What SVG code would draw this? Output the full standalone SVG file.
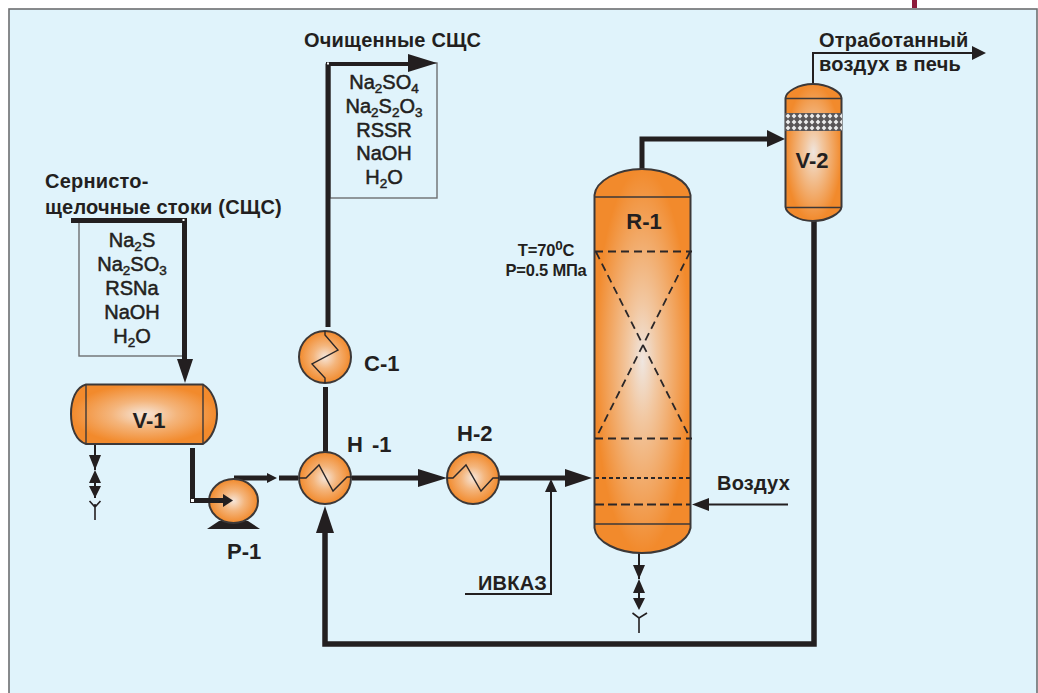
<svg xmlns="http://www.w3.org/2000/svg" width="1038" height="693" viewBox="0 0 1038 693">
<style>
text{font-family:"Liberation Sans",Arial,sans-serif;fill:#231f20}
.b{font-weight:700;font-size:20px;letter-spacing:.2px}
.n{font-weight:700;font-size:22px}
.m{text-anchor:middle}
.f{font-size:20px;text-anchor:middle;stroke:#231f20;stroke-width:.5px}
.t{font-weight:700;font-size:16.500px;text-anchor:middle;letter-spacing:-.2px}
.s{font-size:13.500px}
.v{stroke:#3c3838;stroke-width:2}
.i{fill:none;stroke:#3c3838;stroke-width:1.4}
.z{fill:none;stroke:#2b2728;stroke-width:1.4}
.p{fill:none;stroke:#231f20;stroke-linejoin:miter}
.d{fill:none;stroke:#2b2728;stroke-width:1.8}
.h{fill:#231f20}
.box{fill:none;stroke:#6d6e71;stroke-width:1.4}
</style>
<defs>
<radialGradient id="g"><stop offset="0" stop-color="#f6e6da"/><stop offset=".45" stop-color="#f4b57c"/><stop offset="1" stop-color="#f28a2c"/></radialGradient>
<radialGradient id="gr" cx=".5" cy=".5" r=".5"><stop offset="0" stop-color="#efe6e0"/><stop offset=".3" stop-color="#f2c8a2"/><stop offset="1" stop-color="#f28a2c"/></radialGradient>
<pattern id="mesh" x="785" y="113" width="6" height="6" patternUnits="userSpaceOnUse"><rect width="6" height="6" fill="#5a5657"/><path d="M3 .6 5.400 3 3 5.400 .6 3Z" fill="#ececec"/></pattern>
</defs>
<rect width="1038" height="693" fill="#fff"/>
<rect x="912" y="0" width="5" height="8" fill="#8e1b3a"/>
<rect x="9" y="9" width="1028" height="690" fill="#e0f3fb" stroke="#6d6e71" stroke-width="1.6"/>

<g id="connectors">
<rect class="box" x="79" y="220" width="105" height="136"/>
<rect class="box" x="330" y="63" width="107" height="135"/>
<path class="p" stroke-width="5" d="M71 220.500H184.500V362"/>
<path class="h" d="M177 359H193L185 383Z"/>
<rect x="182.500" y="219" width="2" height="2" fill="#fff"/>
<path class="p" stroke-width="2" d="M95 444V470M95 483V498"/>
<path class="h" d="M89 455H101L95 470ZM95 470 101 483H89ZM89 486H101L95 498Z"/>
<path class="p" stroke-width="1.600" d="M95 504V520M89.500 501 95 507 100.500 501"/>
<path class="p" stroke-width="5" d="M234 478H268M279 478H298"/>
<path class="h" d="M267 473 277 478 267 483Z"/>
<path class="p" stroke-width="5" d="M325.500 387V452M352 478H420M499 478H566"/>
<path class="p" stroke-width="5" d="M328 327V63.500"/>
<path class="p" stroke-width="4" d="M326 64H410"/>
<path class="h" d="M408 54 437 63 408 72Z"/>
<rect x="327" y="62.500" width="2" height="2" fill="#fff"/>
<path class="h" d="M418 469 447 478 418 487Z"/>
<path class="h" d="M565 469 592 478 565 487Z"/>
<path class="p" stroke-width="2" d="M465 594H551V490"/>
<path class="h" d="M545 492 551 479 557 492Z"/>
<path class="p" stroke-width="5.500" d="M814 220V644H325V532"/>
<path class="h" d="M316 533 325 506 334 533Z"/>
<path class="p" stroke-width="5" d="M642 170V139H770"/>
<path class="h" d="M767 130 785 139 767 147Z"/>
<path class="p" stroke-width="2" d="M813 84V53H975"/>
<path class="h" d="M972 46 986 53 972 60Z"/>
<path class="p" stroke-width="2" d="M788 504.500H706"/>
<path class="h" d="M709 498V511L692 504.500Z"/>
<path class="p" stroke-width="2" d="M639 553V579M639 593V608"/>
<path class="h" d="M633 565H645L639 579ZM639 579 645 593H633ZM633 598H645L639 610Z"/>
<path class="p" stroke-width="1.600" d="M639 618V633M632.500 613 639 618 647 613"/>
</g>

<g id="V-1">
<path class="v" fill="url(#g)" d="M86 384.500H203C212 390 217 402 217 414S212 438 203 444H86C76 441 71 428 71 414S76 387 86 384.500Z"/>
<path class="i" d="M86 385V444M203 385V444"/>
<text class="n m" x="149" y="428">V-1</text>
</g>
<g id="P-1">
<path class="h" d="M219 521H248L260 529H207Z"/>
<ellipse class="v" cx="233.500" cy="501" rx="24.500" ry="22" fill="url(#g)"/>
<text class="n" x="227" y="559">P-1</text>
</g>
<g id="pump-inlet">
<path class="p" stroke-width="5" d="M192.500 448V500.500H224"/>
<rect x="191" y="499" width="3" height="3" fill="#fff"/>
<path class="h" d="M223 494 233 500.500 223 507Z"/>
</g>
<g id="H-1">
<circle class="v" cx="325" cy="478" r="26" fill="url(#g)"/>
<path class="z" d="M299 478H306L319 465 333 491 347 477H352"/>
<text class="n" x="347" y="452">H<tspan dx="3"> -1</tspan></text>
</g>
<g id="C-1">
<circle class="v" cx="325" cy="357" r="26" fill="url(#g)"/>
<path class="z" d="M325 331V335L338 350 312 364 325 378V383"/>
<text class="n" x="364" y="371">C-1</text>
</g>
<g id="H-2">
<circle class="v" cx="473" cy="478" r="26" fill="url(#g)"/>
<path class="z" d="M447 478H453L466 465 481 491 493 478H499"/>
<text class="n" x="457" y="441">H-2</text>
</g>
<g id="R-1">
<path class="v" fill="url(#gr)" d="M594.500 195C596 181 617 169 642 169S689 181 690.500 195V528C688 542 666 553 642 553S596 542 594.500 528Z"/>
<path class="i" d="M595 197H690M595 524H690" stroke-width="1.600"/>
<path class="d" stroke-dasharray="8 5" d="M595 251.500H692M595 438.500H692M596 252 690 438M690 252 596 438"/>
<path class="d" stroke-dasharray="4 3" d="M595 478H690"/>
<path class="d" stroke-dasharray="9 4" d="M595 504.500H690" stroke-width="2"/>
<text class="n m" x="644" y="229">R-1</text>
</g>
<g id="V-2">
<path class="v" fill="url(#gr)" d="M785.500 98C786 92 798 84 813 84S841 92 841.500 98V207C841 213 828 221 813 221S786 213 785.500 207Z" stroke-width="2.400"/>
<path class="i" d="M786 98.500H841M786 207.500H841"/>
<rect x="785" y="113" width="57" height="18" fill="url(#mesh)"/>
<text class="n m" x="812" y="168">V-2</text>
</g>

<g id="labels">
<text class="b" x="45" y="188">Сернисто-</text>
<text class="b" x="45" y="214">щелочные стоки (СЩС)</text>
<text class="b" x="304" y="47">Очищенные СЩС</text>
<text class="b" x="819" y="47">Отработанный</text>
<text class="b" x="819" y="71">воздух в печь</text>
<text class="b" x="717" y="490">Воздух</text>
<text class="b" x="478" y="590">ИВКАЗ</text>
<text class="t" x="546" y="256">T=70<tspan class="s" dy="-6" font-size="11">0</tspan><tspan dy="6">C</tspan></text>
<text class="t" x="546" y="276">P=0.5 МПа</text>
<text class="f" x="384" y="89">Na<tspan class="s" dy="4">2</tspan><tspan dy="-4">SO</tspan><tspan class="s" dy="4">4</tspan></text>
<text class="f" x="384" y="113">Na<tspan class="s" dy="4">2</tspan><tspan dy="-4">S</tspan><tspan class="s" dy="4">2</tspan><tspan dy="-4">O</tspan><tspan class="s" dy="4">3</tspan></text>
<text class="f" x="384" y="137">RSSR</text>
<text class="f" x="384" y="160">NaOH</text>
<text class="f" x="384" y="184">H<tspan class="s" dy="4">2</tspan><tspan dy="-4">O</tspan></text>
<text class="f" x="132" y="247">Na<tspan class="s" dy="4">2</tspan><tspan dy="-4">S</tspan></text>
<text class="f" x="132" y="271">Na<tspan class="s" dy="4">2</tspan><tspan dy="-4">SO</tspan><tspan class="s" dy="4">3</tspan></text>
<text class="f" x="132" y="295">RSNa</text>
<text class="f" x="132" y="319">NaOH</text>
<text class="f" x="132" y="343">H<tspan class="s" dy="4">2</tspan><tspan dy="-4">O</tspan></text>
</g>
</svg>
